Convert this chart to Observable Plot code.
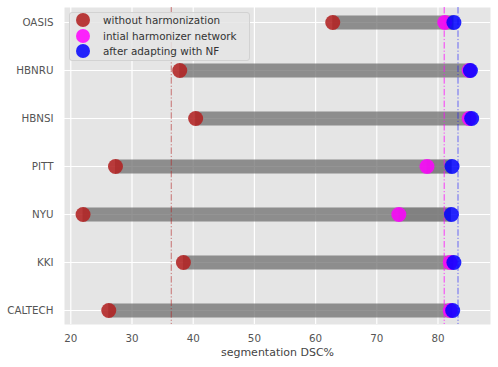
<!DOCTYPE html>
<html><head><meta charset="utf-8">
<script src="https://cdn.jsdelivr.net/npm/d3@7"></script>
<script src="https://cdn.jsdelivr.net/npm/@observablehq/plot@0.6"></script>
<style>
body{margin:0;background:#fff;font-family:"DejaVu Sans",sans-serif}
#wrap{position:relative;width:498px;height:367px}
#legend{position:absolute;left:69px;top:12px;width:179px;height:47px;background:rgba(229,229,229,0.85);border:1px solid #d2d2d2;border-radius:3px;font-size:10.4px;color:#333}
.item{position:absolute;left:6px;height:14px;display:flex;align-items:center;white-space:nowrap}
.sw{width:14px;height:14px;border-radius:50%;margin-right:13px;flex:none}
</style>
</head><body>
<div id="wrap"></div>
<script>
const sites = ["OASIS","HBNRU","HBNSI","PITT","NYU","KKI","CALTECH"];
const withoutHarm = [62.8,37.8,40.4,27.3,22.0,38.4,26.2];
const initialHarm = [81.1,85.1,85.1,78.2,73.6,82.0,82.0];
const afterNF = [82.6,85.3,85.5,82.3,82.2,82.6,82.4];
const xTicks = [20,30,40,50,60,70,80];
const seriesNames = ["without harmonization","intial harmonizer network","after adapting with NF"];
const seriesColors = ["#b22222","#ff00ff","#0000ff"];

const rows = sites.map((s,i)=>({site:s, red:withoutHarm[i], mag:initialHarm[i], blue:afterNF[i]}));

const chart = Plot.plot({
  width:498, height:367,
  marginLeft:64, marginRight:8, marginTop:7, marginBottom:43,
  style:{fontFamily:"DejaVu Sans, sans-serif", fontSize:"10px", color:"#555", background:"white"},
  x:{domain:[18.97,88.58]},
  y:{type:"point", domain:sites, padding:0.27},
  marks:[
    Plot.frame({fill:"#e5e5e5", stroke:"none"}),
    Plot.gridX(xTicks, {stroke:"white", strokeOpacity:1, strokeWidth:1.2}),
    Plot.gridY({stroke:"white", strokeOpacity:1, strokeWidth:1.2}),
    Plot.ruleY(rows, {y:"site", x1:"red", x2:"blue", stroke:"#6b6b6b", strokeOpacity:0.72, strokeWidth:14}),
    Plot.ruleY(rows, {y:"site", x1:"mag", x2:"blue", stroke:"#6b6b6b", strokeOpacity:0.36, strokeWidth:14}),
    Plot.ruleX([d3.mean(withoutHarm)], {stroke:seriesColors[0], strokeOpacity:0.6, strokeDasharray:"6.5,2,1.2,2"}),
    Plot.ruleX([d3.mean(initialHarm)], {stroke:seriesColors[1], strokeOpacity:0.75, strokeDasharray:"6.5,2,1.2,2"}),
    Plot.ruleX([d3.mean(afterNF)], {stroke:seriesColors[2], strokeOpacity:0.55, strokeDasharray:"6.5,2,1.2,2"}),
    Plot.dot(rows, {y:"site", x:"red", r:7.5, fill:seriesColors[0], fillOpacity:0.88, stroke:"none"}),
    Plot.dot(rows, {y:"site", x:"mag", r:7.5, fill:seriesColors[1], fillOpacity:0.85, stroke:"none"}),
    Plot.dot(rows, {y:"site", x:"blue", r:7.5, fill:seriesColors[2], fillOpacity:0.85, stroke:"none"}),
    Plot.axisX({ticks:xTicks, tickSize:0, tickPadding:10.5, fontSize:10.3, color:"#555", label:null}),
    Plot.axisX({ticks:[], tickSize:0, label:"segmentation DSC%", labelAnchor:"center", labelArrow:"none", labelOffset:31, fontSize:11, color:"#444"}),
    Plot.axisY({tickSize:0, tickPadding:11, fontSize:10.3, color:"#555", label:null})
  ]
});
const wrap = document.getElementById("wrap");
wrap.appendChild(chart);
const leg = document.createElement("div");
leg.id = "legend";
const tops = [0, 15.5, 31];
seriesNames.forEach((n,i)=>{
  const it = document.createElement("div");
  it.className = "item";
  it.style.top = tops[i] + "px";
  const sw = document.createElement("span");
  sw.className = "sw";
  sw.style.background = seriesColors[i];
  sw.style.opacity = i===0 ? 0.88 : 0.85;
  const tx = document.createElement("span");
  tx.textContent = n;
  it.appendChild(sw); it.appendChild(tx);
  leg.appendChild(it);
});
wrap.appendChild(leg);
</script>
</body></html>
